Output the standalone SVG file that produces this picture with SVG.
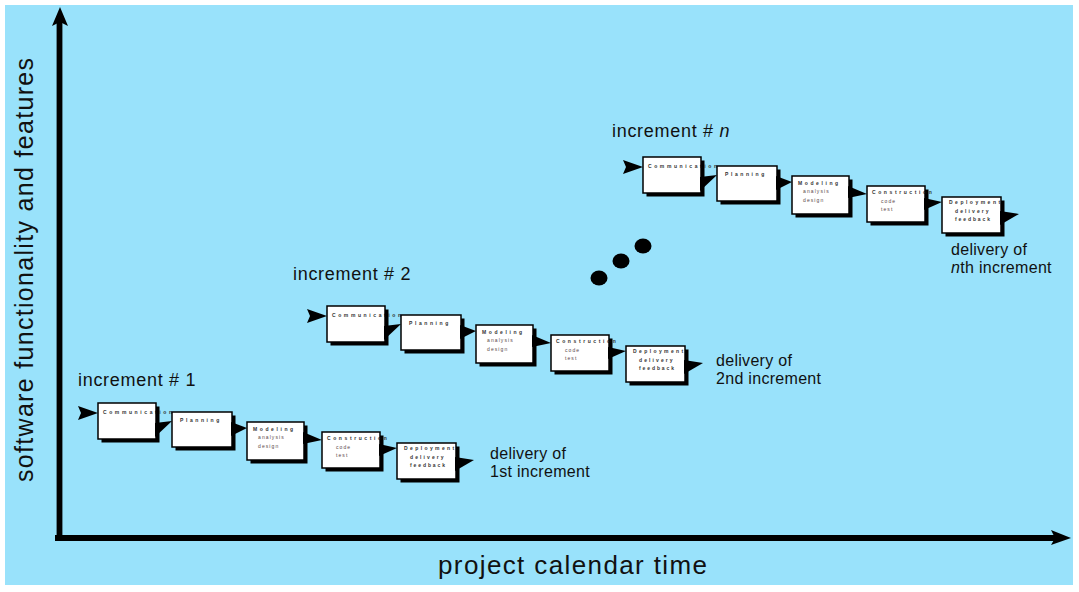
<svg xmlns="http://www.w3.org/2000/svg" width="1079" height="592" viewBox="0 0 1079 592">
<style>
.shadow{fill:#000}
.box{fill:#fff}
.frame{fill:none;stroke:#000;stroke-width:1.5}
.t{font-family:"Liberation Sans",Arial,sans-serif;font-size:5px;font-weight:bold;letter-spacing:2.6px;fill:#333}
.s{font-family:"Liberation Sans",Arial,sans-serif;font-size:5px;letter-spacing:1.1px;fill:#5a4848}
.lbl{font-family:"Liberation Sans",Arial,sans-serif;font-size:18px;letter-spacing:0.7px;fill:#111}
.dl{font-family:"Liberation Sans",Arial,sans-serif;font-size:16px;letter-spacing:0.3px;fill:#111}
.ax{font-family:"Liberation Sans",Arial,sans-serif;fill:#111}
.arr{fill:#000}
</style>
<defs>
<g id="nodes-template"/>
</defs>
<rect x="0" y="0" width="1079" height="592" fill="#fff"/>
<rect x="5" y="5" width="1068" height="580" fill="#99e2fb"/>

<g id="axes">
<line x1="59.5" y1="20" x2="59.5" y2="541" stroke="#000" stroke-width="5.8"/>
<line x1="55" y1="538" x2="1056" y2="538" stroke="#000" stroke-width="6"/>
<polygon class="arr" points="60,7 68,26 60,22 52,26"/>
<polygon class="arr" points="1071,538 1051,530 1055,538 1051,545"/>
<text class="ax" font-size="25" x="33" y="482" transform="rotate(-90 33 482)" textLength="424" lengthAdjust="spacing">software functionality and features</text>
<text class="ax" font-size="26" x="438" y="574" textLength="269" lengthAdjust="spacing">project calendar time</text>
</g>

<!-- increment 1 -->
<g id="increment-1">
<text class="lbl" x="78" y="386">increment # 1</text>
<g id="inc1-communication">
<rect class="shadow" x="101.5" y="406.5" width="58" height="36"/>
<rect class="box" x="98" y="403" width="58" height="36"/>
<text class="t" x="103" y="414">Communication</text>
<rect class="frame" x="98" y="403" width="58" height="36"/>
</g>
<g id="inc1-planning">
<rect class="shadow" x="175.5" y="415.5" width="60" height="35"/>
<rect class="box" x="172" y="412" width="60" height="35"/>
<text class="t" x="180" y="422">Planning</text>
<rect class="frame" x="172" y="412" width="60" height="35"/>
</g>
<g id="inc1-modeling">
<rect class="shadow" x="250.5" y="425.5" width="57" height="38"/>
<rect class="box" x="247" y="422" width="57" height="38"/>
<text class="t" x="253" y="431">Modeling</text>
<text class="s" x="258" y="439">analysis</text>
<text class="s" x="258" y="448">design</text>
<rect class="frame" x="247" y="422" width="57" height="38"/>
</g>
<g id="inc1-construction">
<rect class="shadow" x="325.5" y="435.5" width="58" height="36"/>
<rect class="box" x="322" y="432" width="58" height="36"/>
<text class="t" x="327" y="440">Construction</text>
<text class="s" x="336" y="449">code</text>
<text class="s" x="336" y="457">test</text>
<rect class="frame" x="322" y="432" width="58" height="36"/>
</g>
<g id="inc1-deployment">
<rect class="shadow" x="400.5" y="446.5" width="59" height="36"/>
<rect class="box" x="397" y="443" width="59" height="36"/>
<text class="t" x="404" y="450" style="letter-spacing:2.4px">Deployment</text>
<text class="t" x="410" y="459" style="letter-spacing:2.1px">delivery</text>
<text class="t" x="410" y="467" style="letter-spacing:1.9px">feedback</text>
<rect class="frame" x="397" y="443" width="59" height="36"/>
</g>
<text class="dl" x="490" y="459">delivery of</text>
<text class="dl" x="490" y="477">1st increment</text>
</g>

<!-- increment 2 -->
<g id="increment-2">
<text class="lbl" x="293" y="280">increment # 2</text>
<g transform="translate(229,-97)">
<g id="inc2-communication">
<rect class="shadow" x="101.5" y="406.5" width="58" height="36"/>
<rect class="box" x="98" y="403" width="58" height="36"/>
<text class="t" x="103" y="414">Communication</text>
<rect class="frame" x="98" y="403" width="58" height="36"/>
</g>
<g id="inc2-planning">
<rect class="shadow" x="175.5" y="415.5" width="60" height="35"/>
<rect class="box" x="172" y="412" width="60" height="35"/>
<text class="t" x="180" y="422">Planning</text>
<rect class="frame" x="172" y="412" width="60" height="35"/>
</g>
<g id="inc2-modeling">
<rect class="shadow" x="250.5" y="425.5" width="57" height="38"/>
<rect class="box" x="247" y="422" width="57" height="38"/>
<text class="t" x="253" y="431">Modeling</text>
<text class="s" x="258" y="439">analysis</text>
<text class="s" x="258" y="448">design</text>
<rect class="frame" x="247" y="422" width="57" height="38"/>
</g>
<g id="inc2-construction">
<rect class="shadow" x="325.5" y="435.5" width="58" height="36"/>
<rect class="box" x="322" y="432" width="58" height="36"/>
<text class="t" x="327" y="440">Construction</text>
<text class="s" x="336" y="449">code</text>
<text class="s" x="336" y="457">test</text>
<rect class="frame" x="322" y="432" width="58" height="36"/>
</g>
<g id="inc2-deployment">
<rect class="shadow" x="400.5" y="446.5" width="59" height="36"/>
<rect class="box" x="397" y="443" width="59" height="36"/>
<text class="t" x="404" y="450" style="letter-spacing:2.4px">Deployment</text>
<text class="t" x="410" y="459" style="letter-spacing:2.1px">delivery</text>
<text class="t" x="410" y="467" style="letter-spacing:1.9px">feedback</text>
<rect class="frame" x="397" y="443" width="59" height="36"/>
</g>
</g>
<text class="dl" x="716" y="366">delivery of</text>
<text class="dl" x="716" y="384">2nd increment</text>
</g>

<!-- increment n -->
<g id="increment-n">
<text class="lbl" x="612" y="137">increment # <tspan font-style="italic">n</tspan></text>
<g transform="translate(545,-246)">
<g id="incn-communication">
<rect class="shadow" x="101.5" y="406.5" width="58" height="36"/>
<rect class="box" x="98" y="403" width="58" height="36"/>
<text class="t" x="103" y="414">Communication</text>
<rect class="frame" x="98" y="403" width="58" height="36"/>
</g>
<g id="incn-planning">
<rect class="shadow" x="175.5" y="415.5" width="60" height="35"/>
<rect class="box" x="172" y="412" width="60" height="35"/>
<text class="t" x="180" y="422">Planning</text>
<rect class="frame" x="172" y="412" width="60" height="35"/>
</g>
<g id="incn-modeling">
<rect class="shadow" x="250.5" y="425.5" width="57" height="38"/>
<rect class="box" x="247" y="422" width="57" height="38"/>
<text class="t" x="253" y="431">Modeling</text>
<text class="s" x="258" y="439">analysis</text>
<text class="s" x="258" y="448">design</text>
<rect class="frame" x="247" y="422" width="57" height="38"/>
</g>
<g id="incn-construction">
<rect class="shadow" x="325.5" y="435.5" width="58" height="36"/>
<rect class="box" x="322" y="432" width="58" height="36"/>
<text class="t" x="327" y="440">Construction</text>
<text class="s" x="336" y="449">code</text>
<text class="s" x="336" y="457">test</text>
<rect class="frame" x="322" y="432" width="58" height="36"/>
</g>
<g id="incn-deployment">
<rect class="shadow" x="400.5" y="446.5" width="59" height="36"/>
<rect class="box" x="397" y="443" width="59" height="36"/>
<text class="t" x="404" y="450" style="letter-spacing:2.5px">Deployment</text>
<text class="t" x="410" y="459" style="letter-spacing:2.1px">delivery</text>
<text class="t" x="410" y="467" style="letter-spacing:1.9px">feedback</text>
<rect class="frame" x="397" y="443" width="59" height="36"/>
</g>
</g>
<text class="dl" x="951" y="255">delivery of</text>
<text class="dl" x="951" y="273"><tspan font-style="italic">n</tspan>th increment</text>
</g>

<g id="ellipsis">
<ellipse cx="599" cy="278" rx="8.5" ry="7.5" fill="#000"/>
<ellipse cx="621" cy="261" rx="8.5" ry="7.5" fill="#000"/>
<ellipse cx="643" cy="246" rx="8.5" ry="7.5" fill="#000"/>
</g>

<g id="connectors">
<g id="conn-inc1">
<polygon class="arr" points="78,406 98,413 78,420 81,413"/>
<polygon class="arr" points="155,423 172,421 155,437"/>
<polygon class="arr" points="231,422 247,428 231,436"/>
<polygon class="arr" points="303,432 322,440 303,444"/>
<polygon class="arr" points="379,444 397,448 379,456"/>
<polygon class="arr" points="455,457 474,460 455,471"/>
</g>
<g id="conn-inc2" transform="translate(229,-97)">
<polygon class="arr" points="78,406 98,413 78,420 81,413"/>
<polygon class="arr" points="155,423 172,421 155,437"/>
<polygon class="arr" points="231,422 247,428 231,436"/>
<polygon class="arr" points="303,432 322,440 303,444"/>
<polygon class="arr" points="379,444 397,448 379,456"/>
<polygon class="arr" points="455,457 474,460 455,471"/>
</g>
<g id="conn-incn" transform="translate(545,-246)">
<polygon class="arr" points="78,406 98,413 78,420 81,413"/>
<polygon class="arr" points="155,423 172,421 155,437"/>
<polygon class="arr" points="231,422 247,428 231,436"/>
<polygon class="arr" points="303,432 322,440 303,444"/>
<polygon class="arr" points="379,444 397,448 379,456"/>
<polygon class="arr" points="455,457 474,460 455,471"/>
</g>
</g>
</svg>
